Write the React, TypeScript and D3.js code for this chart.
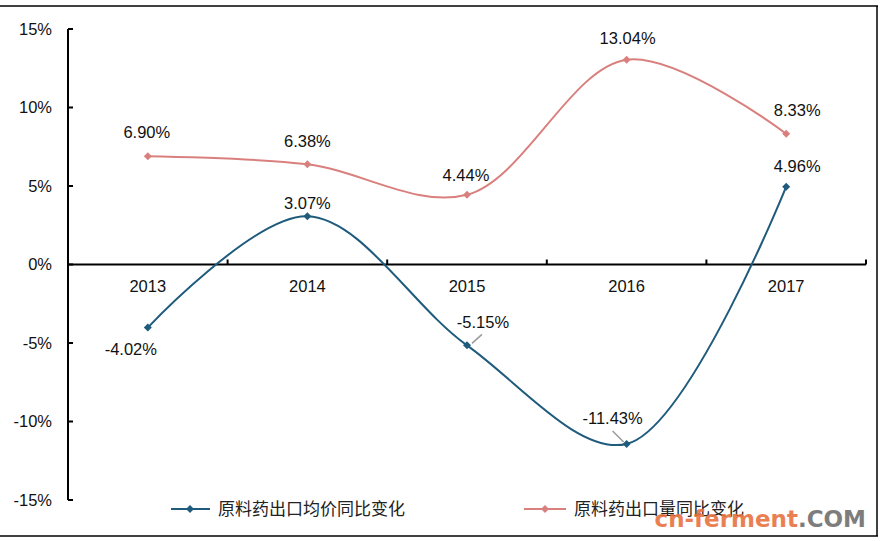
import React from "react";
import * as d3 from "d3";

const years = ["2013", "2014", "2015", "2016", "2017"];
const priceChange = [-4.02, 3.07, -5.15, -11.43, 4.96];
const volumeChange = [6.9, 6.38, 4.44, 13.04, 8.33];
const yTicks = [-15, -10, -5, 0, 5, 10, 15];
const seriesNames = ["原料药出口均价同比变化", "原料药出口量同比变化"];

const W = 880;
const H = 541;
const M = { left: 68, right: 866, top: 29, bottom: 500 };
const BLUE = "#1E5B7C";
const PINK = "#D9807E";
const FONT = "Arial, 'Liberation Sans', sans-serif";

// label offsets [dx, dy] relative to point
const priceLabelOff: [number, number][] = [[-17, 22], [0, -13], [16, -23], [-14, -26], [11, -20]];
const volLabelOff: [number, number][] = [[-1, -17], [0, -16], [-1, -12], [1, -14], [11, -16]];

export default function App() {
  const x = d3.scaleBand<string>().domain(years).range([M.left, M.right]).paddingInner(0).paddingOuter(0);
  const cx = (d: string) => (x(d) as number) + x.bandwidth() / 2;
  const y = d3.scaleLinear().domain([-15, 15]).range([M.bottom, M.top]);

  const line = d3
    .line<number>()
    .x((_, i) => cx(years[i]))
    .y((d) => y(d))
    .curve(d3.curveCatmullRom.alpha(0.5));

  const diamond = (px: number, py: number, r: number) =>
    `M${px},${py - r}L${px + r},${py}L${px},${py + r}L${px - r},${py}Z`;

  const boundaries = years.map((d) => (x(d) as number) + x.bandwidth());

  const fmt = (v: number) => v.toFixed(2) + "%";

  return (
    <svg width={W} height={H} style={{ position: "absolute", left: 0, top: 0, background: "#fff" }} fontFamily={FONT}>
      <rect x={0} y={0} width={W} height={H} fill="#fff" />
      {/* frame */}
      <line x1={0} x2={878} y1={6} y2={6} stroke="#000" strokeWidth={1.5} />
      <line x1={0} x2={878} y1={536} y2={536} stroke="#000" strokeWidth={1.5} />
      <line x1={877} x2={877} y1={6} y2={536} stroke="#000" strokeWidth={1.5} />

      {/* y axis */}
      <line x1={M.left} x2={M.left} y1={y(15)} y2={y(-15)} stroke="#000" strokeWidth={2} />
      {yTicks.map((t) => (
        <g key={t}>
          <line x1={M.left} x2={M.left + 5} y1={y(t)} y2={y(t)} stroke="#000" strokeWidth={2} />
          <text x={52} y={y(t)} dy="0.35em" textAnchor="end" fontSize={16.5} fill="#111">
            {t + "%"}
          </text>
        </g>
      ))}

      {/* x axis */}
      <line x1={M.left} x2={M.right} y1={y(0)} y2={y(0)} stroke="#000" strokeWidth={2} />
      {boundaries.map((b, i) => (
        <line key={i} x1={b} x2={b} y1={y(0)} y2={y(0) - 5} stroke="#000" strokeWidth={2} />
      ))}
      {years.map((d) => (
        <text key={d} x={cx(d)} y={y(0) + 22} dy="0.35em" textAnchor="middle" fontSize={16.5} fill="#111">
          {d}
        </text>
      ))}

      {/* lines */}
      <path d={line(volumeChange) || ""} fill="none" stroke={PINK} strokeWidth={2} />
      <path d={line(priceChange) || ""} fill="none" stroke={BLUE} strokeWidth={2} />

      {volumeChange.map((v, i) => (
        <path key={"vm" + i} d={diamond(cx(years[i]), y(v), 4)} fill={PINK} />
      ))}
      {priceChange.map((v, i) => (
        <path key={"pm" + i} d={diamond(cx(years[i]), y(v), 4)} fill={BLUE} />
      ))}

      {/* leader lines */}
      <line x1={cx(years[2]) + 15} y1={y(priceChange[2]) - 11} x2={cx(years[2]) + 5} y2={y(priceChange[2]) - 2} stroke="#9a9a9a" strokeWidth={1.5} />
      <line x1={cx(years[3]) - 14} y1={y(priceChange[3]) - 13} x2={cx(years[3]) - 3} y2={y(priceChange[3]) - 2} stroke="#9a9a9a" strokeWidth={1.5} />

      {/* labels */}
      {volumeChange.map((v, i) => (
        <text key={"vl" + i} x={cx(years[i]) + volLabelOff[i][0]} y={y(v) + volLabelOff[i][1]} dy="-0.1em" textAnchor="middle" fontSize={16.5} fill="#111">
          {fmt(v)}
        </text>
      ))}
      {priceChange.map((v, i) => (
        <text key={"pl" + i} x={cx(years[i]) + priceLabelOff[i][0]} y={y(v) + priceLabelOff[i][1]} dy="0.35em" textAnchor="middle" fontSize={16.5} fill="#111">
          {fmt(v)}
        </text>
      ))}

      {/* legend */}
      <g>
        <line x1={171} x2={210} y1={509} y2={509} stroke={BLUE} strokeWidth={2} />
        <path d={diamond(190, 509, 4)} fill={BLUE} />
        <text x={218} y={509} dy="0.35em" fontSize={17} fill="#222" fontFamily="'Noto Sans CJK SC', sans-serif">
          {seriesNames[0]}
        </text>
        <line x1={524} x2={566} y1={509} y2={509} stroke={PINK} strokeWidth={2} />
        <path d={diamond(545, 509, 4)} fill={PINK} />
        <text x={574} y={509} dy="0.35em" fontSize={17} fill="#222" fontFamily="'Noto Sans CJK SC', sans-serif">
          {seriesNames[1]}
        </text>
      </g>

      {/* watermark */}
      <text x={866} y={527} textAnchor="end" fontSize={23} fontWeight="bold" fontFamily="'DejaVu Sans', sans-serif" opacity={0.9}>
        <tspan fill="#E8733F">cn-ferment</tspan>
        <tspan fill="#6f6f6f">.COM</tspan>
      </text>
    </svg>
  );
}
